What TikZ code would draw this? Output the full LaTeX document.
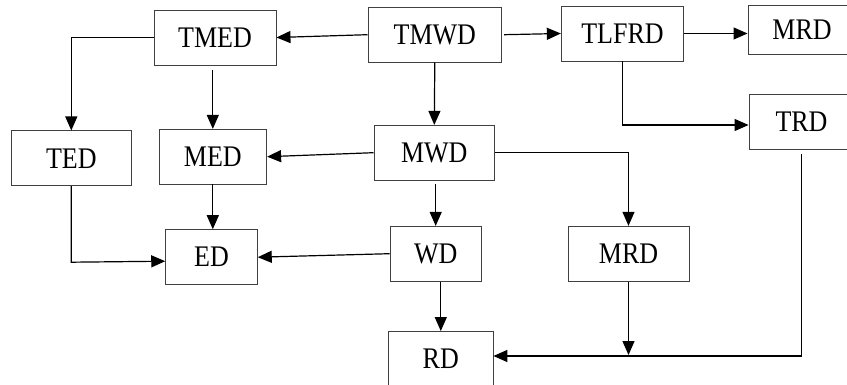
\documentclass[tikz,border=0pt]{standalone}
\usepackage{fontspec}
\usepackage{graphicx}
\setmainfont{Liberation Serif}
\usetikzlibrary{arrows.meta,calc}
\newcommand{\boxtxt}[1]{\scalebox{1}[1.15]{#1}}
\begin{document}
\begin{tikzpicture}[x=1pt,y=-1pt,
  blk/.style={draw=black!75,line width=0.9pt,inner sep=0pt,
    font=\fontsize{26}{31}\selectfont},
  arr/.style={draw=black,line width=1.2pt,-{Triangle[length=14pt,width=12pt]}},
  ln/.style={draw=black,line width=1.2pt}]
\useasboundingbox (0,0) rectangle (847,385);
\clip (0,0) rectangle (847,385);
\node[blk,minimum width=122pt,minimum height=55pt] (tmed) at (215,37.5) {\boxtxt{TMED}};
\node[blk,minimum width=133.7pt,minimum height=54.7pt] (tmwd) at (434.8,34.7) {\boxtxt{TMWD}};
\node[blk,minimum width=122.4pt,minimum height=55pt] (tlfrd) at (622.5,33.5) {\boxtxt{TLFRD}};
\node[blk,minimum width=108pt,minimum height=49.3pt] (mrda) at (802,29.7) {\boxtxt{MRD}};
\node[blk,minimum width=105pt,minimum height=54.6pt] (trd) at (801.5,122) {\boxtxt{TRD}};
\node[blk,minimum width=120.7pt,minimum height=54.7pt] (ted) at (71.3,158.3) {\boxtxt{TED}};
\node[blk,minimum width=107.7pt,minimum height=54.7pt] (med) at (212.8,156.7) {\boxtxt{MED}};
\node[blk,minimum width=120.7pt,minimum height=54.7pt] (mwd) at (434.3,152.7) {\boxtxt{MWD}};
\node[blk,minimum width=91.6pt,minimum height=55pt] (ed) at (211.5,257.2) {\boxtxt{ED}};
\node[blk,minimum width=91.3pt,minimum height=54.7pt] (wd) at (435.7,253.7) {\boxtxt{WD}};
\node[blk,minimum width=121pt,minimum height=55pt] (mrdb) at (628.5,253.8) {\boxtxt{MRD}};
\node[blk,minimum width=104.3pt,minimum height=55pt] (rd) at (440.8,359) {\boxtxt{RD}};
% connectors
\draw[arr] (tmwd.west) -- (tmed.east);
\draw[arr] (tmed.west) -- (tmed.west -| ted.north) -- (ted.north);
\draw[arr] ($(tmed.south -| med.north)+(0,5)$) -- (med.north);
\draw[arr] ([xshift=2pt]tmwd.east) -- (tlfrd.west);
\draw[arr] (tlfrd.east) -- (tlfrd.east -| mrda.west);
\draw[arr] (tlfrd.south) -- ($(tlfrd.south |- trd.west)+(0,3)$) -- ([yshift=-3pt]trd.west);
\draw[arr] (tmwd.south) -- (mwd.north);
\draw[arr] (mwd.west) -- (med.east);
\draw[arr] (mwd.east) -- (mwd.east -| mrdb.north) -- (mrdb.north);
\draw[arr] ($(mwd.south -| wd.north)+(0,4)$) -- (wd.north);
\draw[arr] (ted.south) -- ($(ted.south |- ed.west)+(0,5)$) -- ([yshift=-4pt]ed.west);
\draw[arr] (med.south) -- (med.south |- ed.north);
\draw[arr] (wd.west) -- (ed.east);
\draw[arr] (wd.south -| rd.north) -- (rd.north);
\coordinate (j1) at ($(mrdb.south |- rd.east)+(0,-4)$);
\draw[arr] (mrdb.south) -- (j1);
\draw[arr] ($(trd.south)+(0,4)$) -- ($(trd.south |- rd.east)+(0,-3)$) -- ([yshift=3pt]rd.east);
\end{tikzpicture}
\end{document}
